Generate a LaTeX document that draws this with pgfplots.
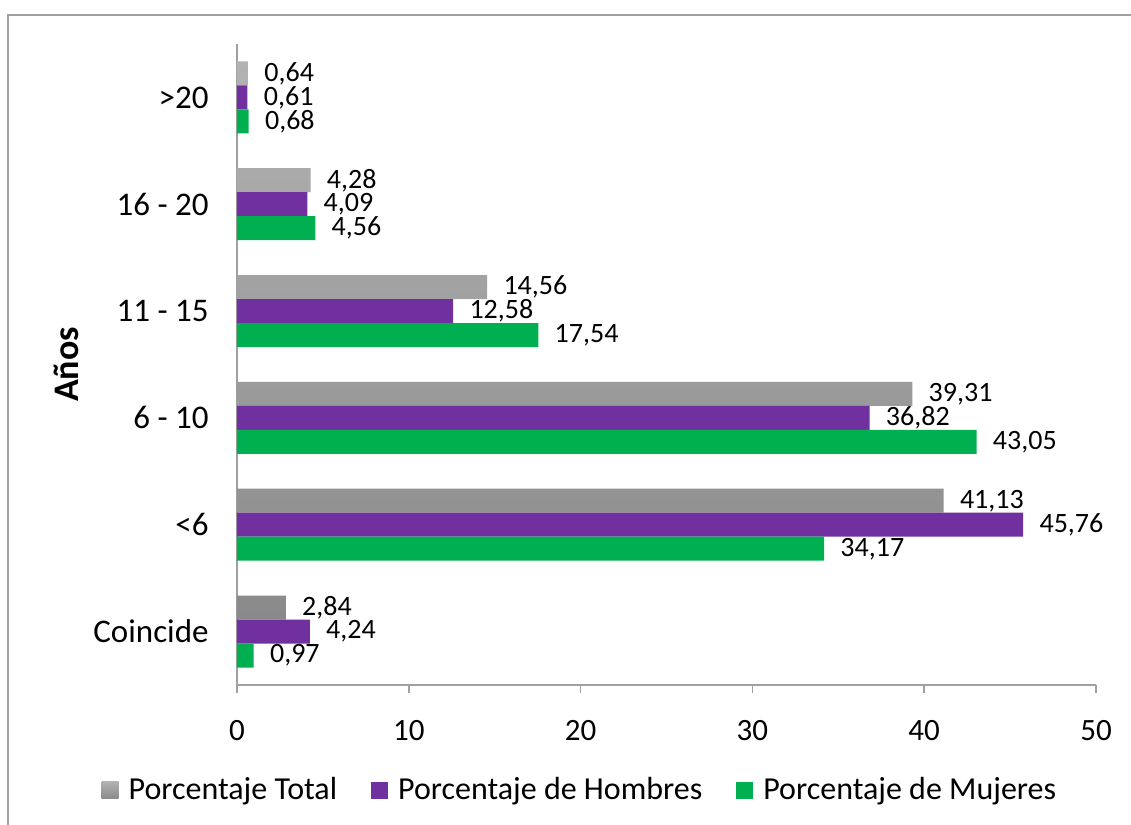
\documentclass[border=0pt]{standalone}
\usepackage{fontspec}
\setmainfont{Carlito}
\usepackage{pgfplots}
\pgfplotsset{compat=1.18}

\definecolor{barGrayTop}{HTML}{B2B2B2}
\definecolor{barGrayBot}{HTML}{8A8A8A}
\definecolor{barPurple}{HTML}{7030A0}
\definecolor{barGreen}{HTML}{00B050}
\definecolor{axisGray}{HTML}{A0A0A0}

\pgfplotsset{/pgf/number format/assume math mode=true}

\begin{document}
\begin{tikzpicture}
\useasboundingbox (0,0) rectangle (565.5pt,412.5pt);
\fill[white] (0,0) rectangle (565.5pt,412.5pt);
% chart frame
\draw[axisGray, line width=1pt] (4pt,-20pt) rectangle (600pt,405pt);
\begin{axis}[
  at={(118.5pt,70pt)}, anchor=south west,
  scale only axis, width=429.5pt, height=320.5pt,
  xbar, bar width=12pt,
  xmin=0, xmax=50, ymin=-0.5, ymax=5.5,
  xtick={0,10,...,50},
  ytick={0,...,5},
  yticklabels={Coincide,<6,6 - 10,11 - 15,16 - 20,>20},
  axis x line*=bottom, axis y line*=left,
  axis line style={axisGray, line width=0.75pt},
  xtick align=outside, major tick length=4pt,
  x tick style={axisGray, line width=0.75pt},
  y tick style={draw=none},
  xticklabel style={inner sep=0pt, yshift=-13.5pt, font=\fontsize{15.5}{18}\selectfont},
  yticklabel style={inner sep=0pt, xshift=-10pt, font=\fontsize{16.5}{19}\selectfont},
  ylabel={Años},
  ylabel style={at={(axis description cs:-0.199,0.5)}, anchor=center,
    font=\fontsize{18}{21}\selectfont\bfseries},
  point meta=x,
  nodes near coords={\pgfmathprintnumber[fixed,fixed zerofill,precision=2,use comma]{\pgfplotspointmeta}},
  every node near coord/.append style={anchor=west, inner sep=0pt, xshift=8pt,
    font=\fontsize{14}{16}\selectfont, text=black},
  legend columns=3,
  legend image code/.code={\path[#1,draw=none] (0pt,-4.25pt) rectangle (8.5pt,4.25pt);},
  legend style={at={(0.398,-0.164)}, anchor=center, draw=none, fill=none,
    font=\fontsize{16}{19}\selectfont,
    nodes={inner sep=0pt},
    /tikz/every odd column/.append style={column sep=5pt},
    /tikz/every even column/.append style={column sep=17pt}},
]
\addplot[draw=none, top color=barGrayTop, bottom color=barGrayBot, bar shift=12pt]
  coordinates {(2.84,0) (41.13,1) (39.31,2) (14.56,3) (4.28,4) (0.64,5)};
\addplot[draw=none, fill=barPurple, bar shift=0pt]
  coordinates {(4.24,0) (45.76,1) (36.82,2) (12.58,3) (4.09,4) (0.61,5)};
\addplot[draw=none, fill=barGreen, bar shift=-12pt]
  coordinates {(0.97,0) (34.17,1) (43.05,2) (17.54,3) (4.56,4) (0.68,5)};
\legend{Porcentaje Total, Porcentaje de Hombres, Porcentaje de Mujeres}
\end{axis}
\end{tikzpicture}
\end{document}
